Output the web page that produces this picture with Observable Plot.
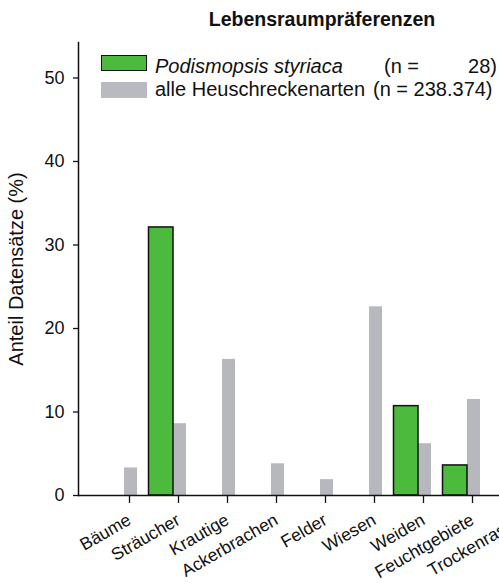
<!DOCTYPE html>
<html><head><meta charset="utf-8">
<script src="https://cdn.jsdelivr.net/npm/d3@7"></script>
<script src="https://cdn.jsdelivr.net/npm/@observablehq/plot@0.6"></script>
<style>
body{margin:0;background:#fff;}
#wrap{position:relative;width:499px;height:584px;overflow:hidden;font-family:"Liberation Sans",Arial,sans-serif;color:#111;}
#wrap svg{position:absolute;left:0;top:0;}
#wrap g[aria-label="y-axis label"] text{font-size:20px;}
.t{position:absolute;white-space:pre;line-height:1;font-size:20px;}
.sw{position:absolute;box-sizing:border-box;width:46px;height:16px;}
</style></head><body>
<div id="wrap">
  <div class="t" id="title" style="left:322px;top:9.5px;transform:translateX(-50%);font-weight:bold;font-size:19.5px;">Lebensraumpräferenzen</div>
  <div class="sw" style="left:101px;top:55px;background:#4cba3c;border:1.5px solid #111;"></div>
  <div class="t" style="left:155px;top:56px;font-style:italic;">Podismopsis styriaca</div>
  <div class="t" style="left:384px;top:56px;">(n =</div>
  <div class="t" style="right:2px;top:56px;">28)</div>
  <div class="sw" style="left:101px;top:82px;background:#b9bac0;"></div>
  <div class="t" style="left:155px;top:79px;">alle Heuschreckenarten</div>
  <div class="t" style="left:373px;top:79px;">(n = 238.374)</div>
</div>
<script>
const categories = ["Bäume","Sträucher","Krautige","Ackerbrachen","Felder","Wiesen","Weiden","Feuchtgebiete","Trockenrasen"];
const podismopsis = [0, 32.1, 0, 0, 0, 0, 10.7, 3.6, 0];
const alleArten = [3.3, 8.6, 16.3, 3.8, 1.9, 22.6, 6.2, 11.5, null];
const yTicks = [0, 10, 20, 30, 40, 50];

const rows = categories.map((c, i) => ({cat: c, green: podismopsis[i], gray: alleArten[i]}));

const chart = Plot.plot({
  width: 499, height: 584,
  marginLeft: 78, marginRight: 0, marginTop: 42, marginBottom: 89,
  style: {fontFamily: '"Liberation Sans", Arial, sans-serif', fontSize: "18px", color: "#111", background: "transparent", overflow: "hidden"},
  x: {domain: categories, range: [99.5, 540.5], padding: 0, round: false, label: null},
  y: {domain: [0, 54.25], label: null},
  marks: [
    Plot.barY(rows.filter(d => d.gray != null && d.gray > 0), {x: "cat", y: "gray", fill: "#b7b8be", insetLeft: 24.5, insetRight: 11.5}),
    Plot.barY(rows.filter(d => d.green > 0), {x: "cat", y: "green", fill: "#4cba3c", stroke: "#111", strokeWidth: 1.5, insetLeft: 0, insetRight: 24.5}),
    Plot.ruleY([0], {stroke: "#111", strokeWidth: 1.5}),
    Plot.frame({anchor: "left", stroke: "#111", strokeWidth: 1.5}),
    Plot.axisY({ticks: yTicks, tickSize: 5, tickPadding: 9, fontSize: 18, strokeWidth: 1.3, label: "Anteil Datensätze (%)", labelAnchor: "center", labelOffset: 70, labelArrow: "none"}),
    Plot.axisX({tickSize: 8, tickPadding: 15, dx: 5, tickRotate: -30, fontSize: 17.5, strokeWidth: 1.3, label: null})
  ]
});
document.getElementById("wrap").prepend(chart);
</script>
</body></html>
